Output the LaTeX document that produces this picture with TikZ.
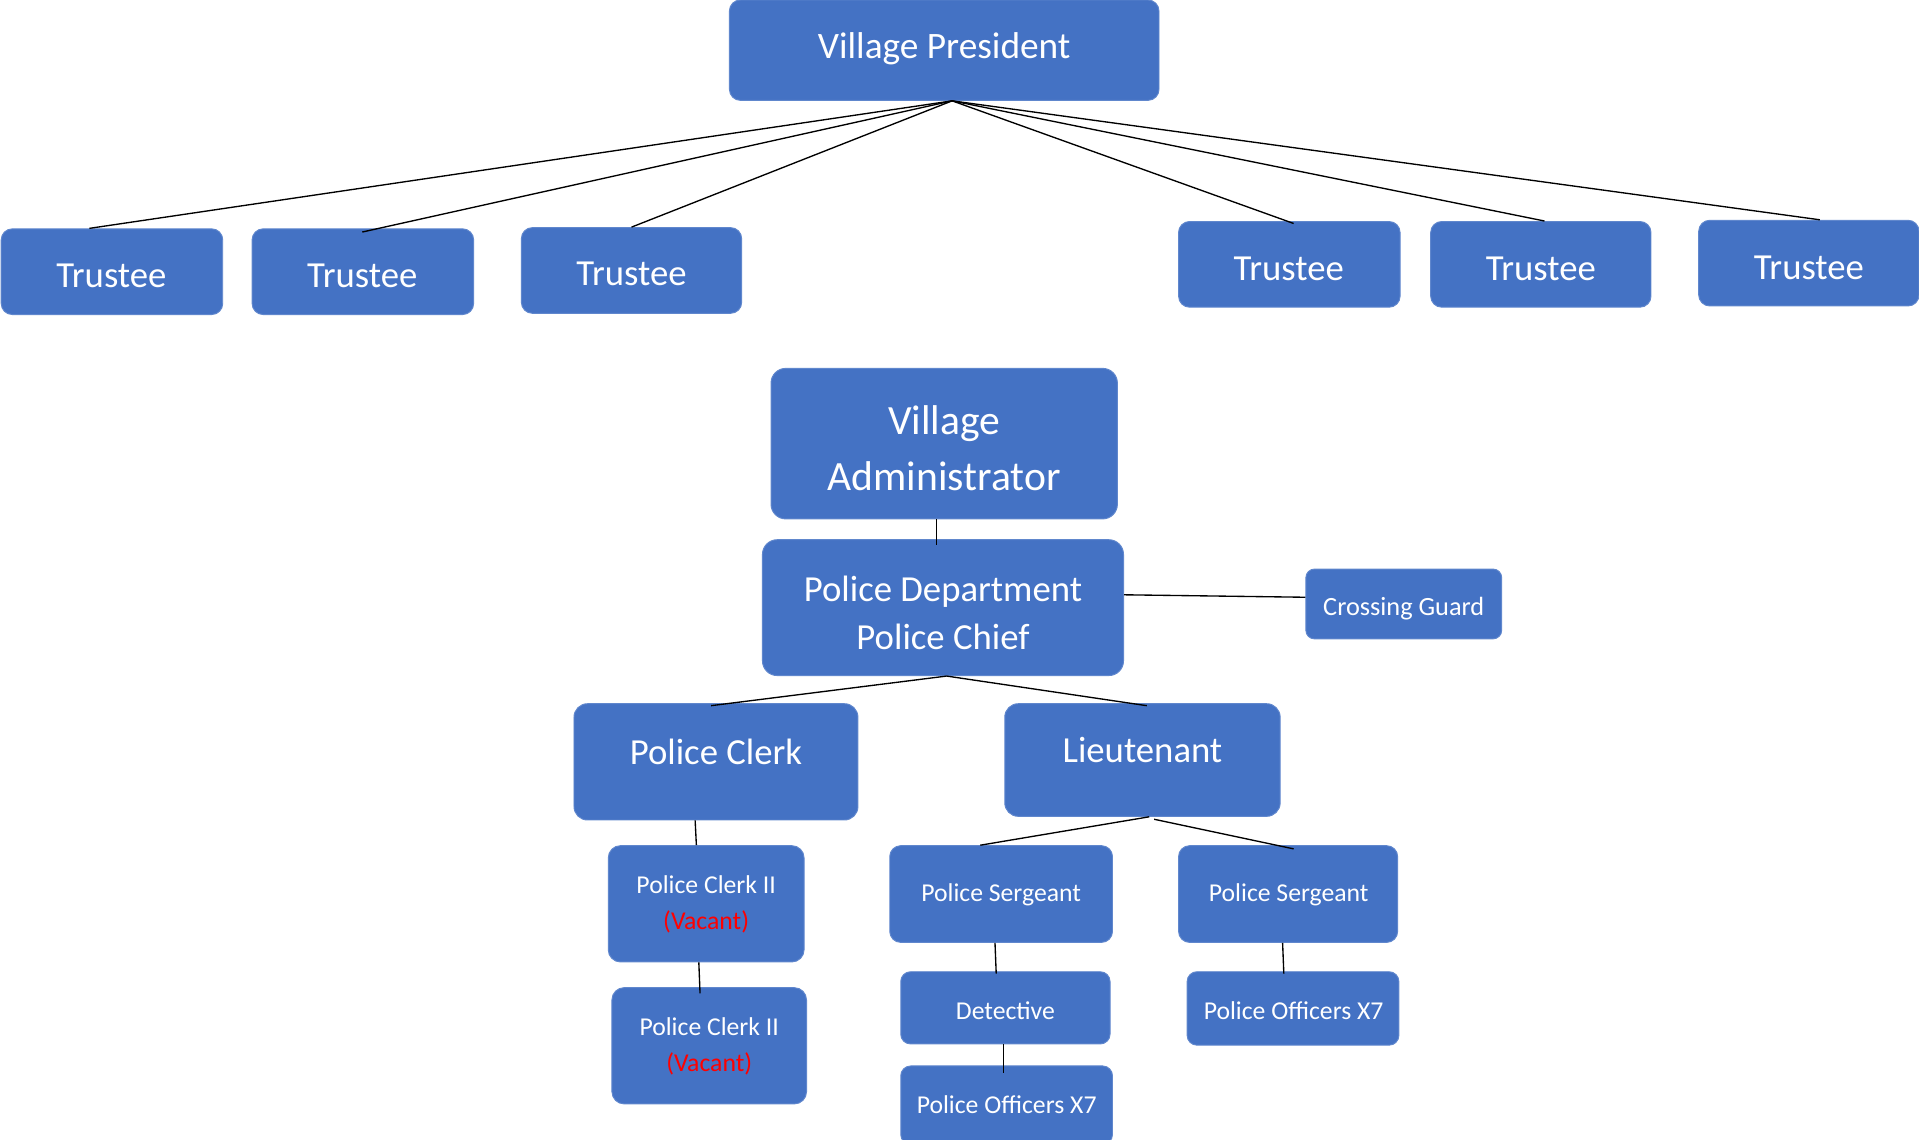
\documentclass[tikz,border=0pt]{standalone}
\usepackage{fontspec}
\setmainfont{Carlito}
\definecolor{boxblue}{HTML}{4472C4}
\definecolor{vacred}{HTML}{FF0000}
\begin{document}
\begin{tikzpicture}[x=1pt,y=-1pt,
  box/.style={draw=boxblue!85!white, line width=0.8pt, fill=boxblue, rounded corners=9pt, inner sep=0pt},
  txt/.style={text=white, align=center, inner sep=0pt},
  f32/.style={txt, font=\fontsize{30.5}{38}\selectfont},
  f34/.style={txt, font=\fontsize{34}{46}\selectfont},
  f30/.style={txt, font=\fontsize{30}{39}\selectfont},
  f22/.style={txt, font=\fontsize{21.5}{29}\selectfont},
  f21/.style={txt, font=\fontsize{21}{29}\selectfont},
  conn/.style={draw=black, line width=1.1pt}]
\useasboundingbox (0,0) rectangle (1568,931);

% Village President
\node[box, minimum width=351, minimum height=82] (vp) at (771.5,41) {};
\node[f32] (vpt) at (771.5,39.5) {Village President};

% Trustees
\node[box, minimum width=181, minimum height=70] (t1) at (91.5,222) {};
\node[f30] at (91,225) {Trustee};
\node[box, minimum width=181, minimum height=70] (t2) at (296.5,222) {};
\node[f30] at (296,225) {Trustee};
\node[box, minimum width=180, minimum height=70] (t3) at (516,221) {};
\node[f30] at (516,224) {Trustee};
\node[box, minimum width=181, minimum height=70] (t4) at (1053.5,216) {};
\node[f30] at (1053,220) {Trustee};
\node[box, minimum width=180, minimum height=70] (t5) at (1259,216) {};
\node[f30] at (1259,220) {Trustee};
\node[box, minimum width=180, minimum height=70] (t6) at (1478,215) {};
\node[f30] at (1478,219) {Trustee};

\coordinate (vpo) at ([xshift=6.5pt]vp.south);
\draw[conn] (vpo) -- ([xshift=-18.5pt]t1.north);
\draw[conn] (vpo) -- ([xshift=-0.5pt,yshift=-3pt]t2.north);
\draw[conn] (vpo) -- ([yshift=0pt]t3.north);
\draw[conn] (vpo) -- ([xshift=3.5pt,yshift=-2pt]t4.north);
\draw[conn] (vpo) -- ([xshift=3pt]t5.north);
\draw[conn] (vpo) -- ([xshift=9pt]t6.north);

% Village Administrator
\node[box, minimum width=283, minimum height=123, rounded corners=12pt] (va) at (771.5,362.5) {};
\node[f34] at (771.5,366) {Village\\Administrator};

% Police Department
\node[box, minimum width=295, minimum height=111, rounded corners=12pt] (pd) at (770.5,496.5) {};
\node[f30] at (770.5,501) {Police Department\\Police Chief};

% Crossing Guard
\node[box, minimum width=160, minimum height=57, rounded corners=7pt] (cg) at (1147,493.5) {};
\node[f22] at (1147,497) {Crossing Guard};

% Police Clerk & Lieutenant
\node[box, minimum width=232, minimum height=95, rounded corners=11pt] (pcl) at (585,622.5) {};
\node[f30] at (585,614) {Police Clerk};
\node[box, minimum width=225, minimum height=92, rounded corners=11pt] (lt) at (933.5,621) {};
\node[f30] at (933.5,613) {Lieutenant};

% Police Clerk II (Vacant)
\node[box, minimum width=160, minimum height=95, rounded corners=10pt] (pc2a) at (577,738.5) {};
\node[f21] at (577,739) {Police Clerk II\\\textcolor{vacred}{(Vacant)}};
\node[box, minimum width=159, minimum height=95, rounded corners=10pt] (pc2b) at (579.5,854.5) {};
\node[f21] at (579.5,855) {Police Clerk II\\\textcolor{vacred}{(Vacant)}};

% Sergeants
\node[box, minimum width=182, minimum height=79, rounded corners=9pt] (ps1) at (818,730.5) {};
\node[f21] at (818,731) {Police Sergeant};
\node[box, minimum width=179, minimum height=79, rounded corners=9pt] (ps2) at (1052.5,730.5) {};
\node[f21] at (1053,731) {Police Sergeant};

% Detective and officers
\node[box, minimum width=171, minimum height=59, rounded corners=8pt] (det) at (821.5,823.5) {};
\node[f21] at (821.5,826) {Detective};
\node[box, minimum width=173, minimum height=64, rounded corners=8pt] (po1) at (822.5,903) {};
\node[f21] at (822.5,903) {Police Officers X7};
\node[box, minimum width=173, minimum height=60, rounded corners=8pt] (po2) at (1056.5,824) {};
\node[f21] at (1057,826) {Police Officers X7};

% Connectors
\draw[conn] ([xshift=-6.5pt]va.south) -- ([xshift=-5.5pt,yshift=-5pt]pd.north);
\draw[conn] ([yshift=10.5pt]pd.east) -- ([yshift=5.5pt]cg.west);
\coordinate (pdo) at ([xshift=3pt]pd.south);
\draw[conn] (pdo) -- ([xshift=-4pt,yshift=-2pt]pcl.north);
\draw[conn] (pdo) -- ([xshift=3.5pt,yshift=-2pt]lt.north);
\draw[conn] ([xshift=-17pt]pcl.south) -- ([xshift=-8pt]pc2a.north);
\draw[conn] ([xshift=-6pt]pc2a.south) -- ([xshift=-7.5pt,yshift=-5pt]pc2b.north);
\draw[conn] ([xshift=5.5pt]lt.south) -- ([xshift=-17pt]ps1.north);
\draw[conn] ([xshift=9.5pt,yshift=-2pt]lt.south) -- ([xshift=4.5pt,yshift=-3pt]ps2.north);
\draw[conn] ([xshift=-5pt]ps1.south) -- ([xshift=-7.5pt,yshift=-2pt]det.north);
\draw[conn] ([xshift=-1.5pt]det.south) -- ([xshift=-2.5pt,yshift=-6pt]po1.north);
\draw[conn] ([xshift=-4.5pt]ps2.south) -- ([xshift=-7.5pt,yshift=-2pt]po2.north);
\end{tikzpicture}
\end{document}
